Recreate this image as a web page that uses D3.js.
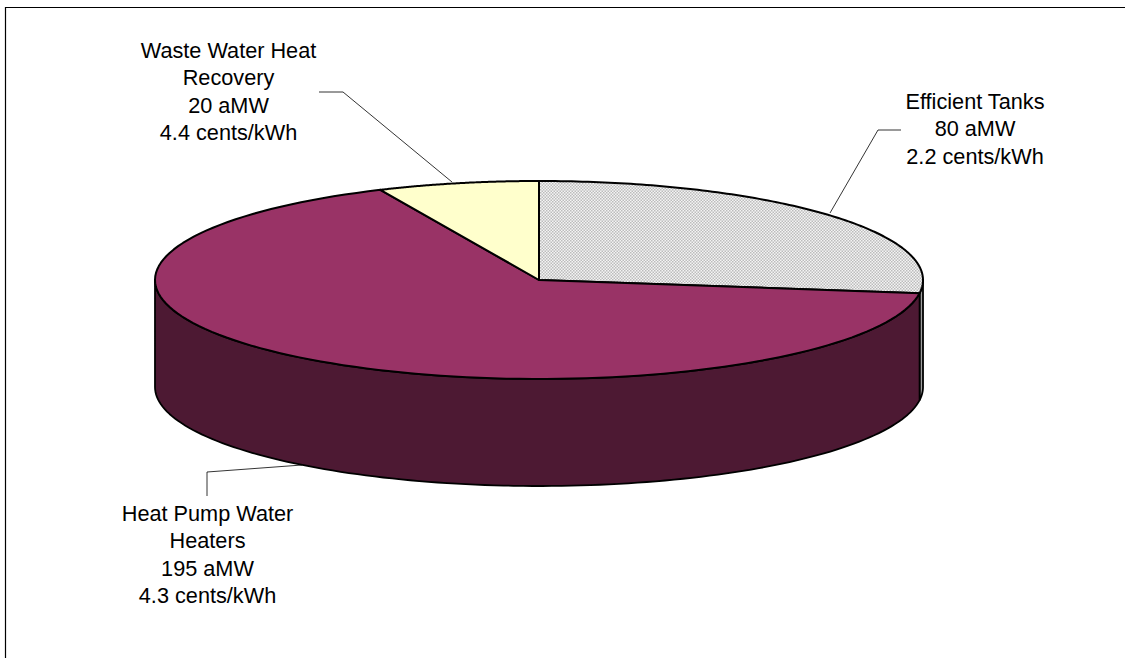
<!DOCTYPE html>
<html>
<head>
<meta charset="utf-8">
<script src="https://cdn.jsdelivr.net/npm/d3@7"></script>
<style>
html,body{margin:0;padding:0;background:#fff}
svg{display:block}
text{font-family:"Liberation Sans",Arial,sans-serif;font-size:21.7px;fill:#000}
</style>
</head>
<body>
<svg width="1125" height="658"></svg>
<script>
const categories = ["Efficient Tanks","Heat Pump Water Heaters","Waste Water Heat Recovery"];
const values = [80,195,20];
const costs = ["2.2 cents/kWh","4.3 cents/kWh","4.4 cents/kWh"];
const topColors = ["url(#dots)","#993366","#ffffcc"];
const sideColors = ["#a0a0a0","#4d1933","#80806a"];
// label lines as they wrap in the chart
const labelLines = [
    ["Efficient Tanks","80 aMW","2.2 cents/kWh"],
    ["Heat Pump Water","Heaters","195 aMW","4.3 cents/kWh"],
    ["Waste Water Heat","Recovery","20 aMW","4.4 cents/kWh"]
];
const labelPos = [[975,109],[207.5,521],[228.5,58]];
const leaders = [
    [[901,130],[878,130],[830,213]],
    [[207,496],[207,472],[302,465]],
    [[319,92],[343,92],[452,182]]
];

var svg = d3.select("svg");

// slide frame, runs off the right and bottom of the picture
svg.append("path")
    .attr("d","M5.5,658V7.5H1125")
    .attr("fill","none")
    .attr("stroke","#000")
    .attr("stroke-width",1.2);

var defs = svg.append("defs");
var dots = defs.append("pattern").attr("id","dots")
    .attr("width",3).attr("height",3)
    .attr("patternUnits","userSpaceOnUse");
dots.append("rect").attr("width",3).attr("height",3).attr("fill","#f4f4f4");
dots.append("rect").attr("width",1.5).attr("height",1.5).attr("fill","#bcbcbc");
dots.append("rect").attr("x",1.5).attr("y",1.5).attr("width",1.5).attr("height",1.5).attr("fill","#bcbcbc");

// unit circle squashed to the ellipse of the tilted pie
var xScale = d3.scaleLinear().domain([-1,1]).range([155,923]);
var yScale = d3.scaleLinear().domain([-1,1]).range([181,379]);
var depth = 107;

var pie = d3.pie().sort(null).value(d=>d);
var arcs = pie(values);

var px = a => xScale(Math.sin(a));
var py = a => yScale(-Math.cos(a));
var line = d3.line();

// outline of one slice on the top face
var topPath = d => {
    var pts = [[xScale(0),yScale(0)]];
    d3.range(0,121).forEach(i=>{
        var a = d.startAngle+(d.endAngle-d.startAngle)*i/120;
        pts.push([px(a),py(a)]);
    });
    return line(pts)+"Z";
};

// visible wall, only the front half (PI/2 to 3PI/2)
var sidePath = d => {
    var a0 = Math.max(d.startAngle,Math.PI/2);
    var a1 = Math.min(d.endAngle,Math.PI*1.5);
    if(a1<=a0) return null;
    var upper = d3.range(0,121).map(i=>{
        var a = a0+(a1-a0)*i/120;
        return [px(a),py(a)];
    });
    var lower = upper.slice().reverse().map(p=>[p[0],p[1]+depth]);
    return line(upper.concat(lower))+"Z";
};

var g = svg.append("g");

g.selectAll(".side")
    .data(arcs)
    .enter()
    .append("path")
    .attr("class","side")
    .attr("d",d=>sidePath(d))
    .attr("fill",(d,i)=>sideColors[i])
    .attr("stroke","#000")
    .attr("stroke-width",1.8)
    .attr("stroke-linejoin","round");

g.selectAll(".top")
    .data(arcs)
    .enter()
    .append("path")
    .attr("class","top")
    .attr("d",d=>topPath(d))
    .attr("fill",(d,i)=>topColors[i])
    .attr("stroke","#000")
    .attr("stroke-width",2)
    .attr("stroke-linejoin","round");

// leader lines
svg.selectAll(".leader")
    .data(leaders)
    .enter()
    .append("path")
    .attr("class","leader")
    .attr("d",d=>line(d))
    .attr("fill","none")
    .attr("stroke","#000")
    .attr("stroke-width",0.8);

// labels
var labels = svg.selectAll(".label")
    .data(labelLines)
    .enter()
    .append("text")
    .attr("class","label")
    .attr("text-anchor","middle")
    .attr("transform",(d,i)=>"translate("+labelPos[i][0]+","+labelPos[i][1]+")");

labels.selectAll("tspan")
    .data(d=>d)
    .enter()
    .append("tspan")
    .attr("x",0)
    .attr("y",(d,i)=>i*27.4)
    .text(d=>d);
</script>
</body>
</html>
